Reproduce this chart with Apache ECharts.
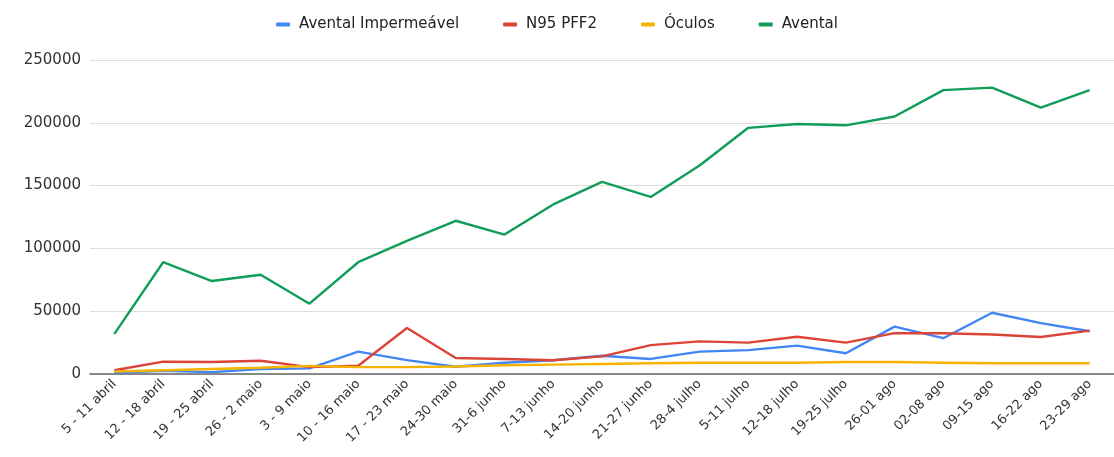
<!DOCTYPE html>
<html>
<head>
<meta charset="utf-8">
<script src="https://cdn.jsdelivr.net/npm/echarts@6/dist/echarts.min.js"></script>
<style>
  html, body { margin: 0; padding: 0; background: #fff; overflow: hidden; }
  #chart { width: 1114px; height: 457px; }
</style>
</head>
<body>
<div id="chart"></div>
<script>
  // semanas
  var categorias = ['5 - 11 abril', '12 - 18 abril', '19 - 25 abril', '26 - 2 maio', '3 - 9 maio',
    '10 - 16 maio', '17 - 23 maio', '24-30 maio', '31-6 junho', '7-13 junho', '14-20 junho',
    '21-27 junho', '28-4 julho', '5-11 julho', '12-18 julho', '19-25 julho', '26-01 ago',
    '02-08 ago', '09-15 ago', '16-22 ago', '23-29 ago'];

  var aventalImpermeavel = [1000, 2500, 1500, 4000, 4500, 17800, 11000, 5800, 9000, 11000, 14500,
    12000, 17800, 19000, 22600, 16500, 37700, 28500, 48800, 40500, 34000];
  var n95 = [3000, 9800, 9500, 10500, 5500, 6600, 36600, 12700, 12000, 11000, 14000,
    23000, 26000, 25000, 29700, 25000, 32500, 32500, 31500, 29500, 34500];
  var oculos = [2000, 3000, 4000, 5000, 6500, 5500, 5500, 6000, 7000, 7500, 8000,
    8500, 9000, 9000, 9000, 9500, 9500, 9000, 8500, 8500, 8500];
  var avental = [32000, 89000, 74000, 79000, 56000, 89000, 106000, 122000, 111000, 135000, 153000,
    141000, 166000, 196000, 199000, 198000, 205000, 226000, 228000, 212000, 226000];

  var yTicks = [0, 50000, 100000, 150000, 200000, 250000];

  var myChart = echarts.init(document.getElementById('chart'));

  function linha(nome, dados, cor) {
    return {
      name: nome,
      type: 'line',
      data: dados,
      symbol: 'none',
      lineStyle: { width: 2.4, color: cor },
      itemStyle: { color: cor }
    };
  }

  var option = {
    backgroundColor: '#fff',
    textStyle: { fontFamily: 'DejaVu Sans, sans-serif' },
    legend: {
      top: 12,
      left: 'center',
      itemGap: 44,
      itemWidth: 14,
      itemHeight: 4,
      icon: 'roundRect',
      textStyle: { fontSize: 15, color: '#222', padding: [0, 0, 0, 4] },
      data: ['Avental Impermeável', 'N95 PFF2', 'Óculos', 'Avental']
    },
    grid: {
      left: 90,
      right: -8,
      top: 60,
      bottom: 83
    },
    xAxis: {
      type: 'category',
      data: categorias,
      boundaryGap: true,
      axisTick: { show: false },
      axisLine: { lineStyle: { color: '#666', width: 1.5 } },
      axisLabel: {
        interval: 0,
        rotate: 45,
        fontSize: 13,
        color: '#333',
        margin: 8
      }
    },
    yAxis: {
      type: 'value',
      min: yTicks[0],
      max: yTicks[yTicks.length - 1],
      interval: 50000,
      axisLine: { show: false },
      axisTick: { show: false },
      axisLabel: {
        fontSize: 15,
        color: '#333',
        margin: 9,
        formatter: function (v) { return String(v); }
      },
      splitLine: { lineStyle: { color: '#ddd', width: 1 } }
    },
    series: [
      linha('Avental Impermeável', aventalImpermeavel, '#4285F4'),
      linha('N95 PFF2', n95, '#DB4437'),
      linha('Óculos', oculos, '#F4B400'),
      linha('Avental', avental, '#0F9D58')
    ]
  };

  myChart.setOption(option);
</script>
</body>
</html>
